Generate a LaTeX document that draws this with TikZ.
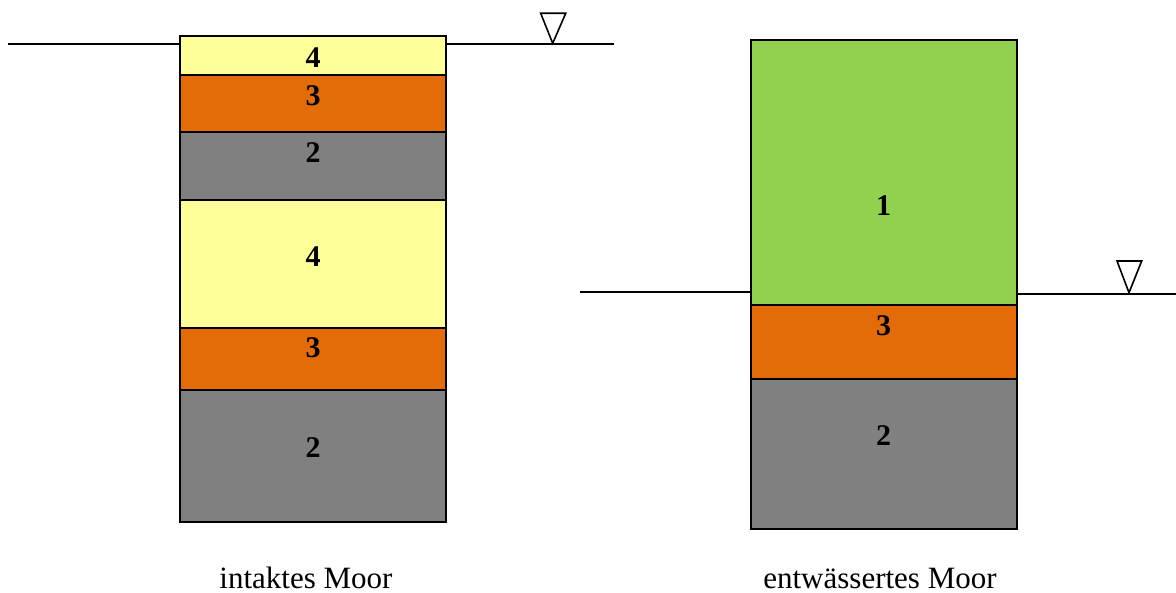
\documentclass[tikz,border=0pt]{standalone}
\usepackage{fontspec}
\setmainfont{Liberation Serif}
\definecolor{peatyellow}{HTML}{FFFF99}
\definecolor{peatorange}{HTML}{E36C09}
\definecolor{peatgray}{HTML}{808080}
\definecolor{peatgreen}{HTML}{92D050}
\tikzset{
  layer/.style={draw=black, line width=2pt, rectangle, inner sep=0pt, outer sep=0pt,
                minimum width=266pt},
  num/.style={font=\fontsize{30}{32}\selectfont\bfseries, inner sep=0pt},
  caption/.style={font=\fontsize{31}{34}\selectfont, anchor=base, inner sep=0pt},
  water/.style={line width=1.8pt},
  marker/.style={line width=1.6pt, line join=miter}
}
\begin{document}
\begin{tikzpicture}[x=1pt, y=-1pt]
\useasboundingbox (0,0) rectangle (1176,593);

% --- intact bog column ---
\node[layer, fill=peatyellow, minimum height=38.4pt] (a4t) at (313,55.5) {};
\node[layer, fill=peatorange, minimum height=57pt]   (a3t) at (313,103.2) {};
\node[layer, fill=peatgray,   minimum height=68.6pt] (a2t) at (313,166) {};
\node[layer, fill=peatyellow, minimum height=127.4pt](a4b) at (313,264) {};
\node[layer, fill=peatorange, minimum height=62.6pt] (a3b) at (313,359) {};
\node[layer, fill=peatgray,   minimum height=132pt]  (a2b) at (313,456.3) {};

\node[num] (n4t) at (313,57.5) {4};
\node[num] (n3t) at (313,95.5) {3};
\node[num] (n2t) at (313,152.5) {2};
\node[num] (n4b) at (313,257) {4};
\node[num] (n3b) at (313,348) {3};
\node[num] (n2b) at (313,448) {2};

% water table of the intact bog
\coordinate (wa1) at (8,44);
\coordinate (wa2) at (614,44);
\draw[water] (wa1) -- (wa1 -| a4t.west);
\draw[water] (wa2 -| a4t.east) -- (wa2);
\coordinate (ta) at (552.7,43.3);
\draw[marker] (ta) -- (540.7,13.3) -- (565.7,13.3) -- cycle;

\node[caption] (capa) at (306,588) {intaktes Moor};

% --- drained bog column ---
\node[layer, fill=peatgreen,  minimum height=265pt]  (b1) at (883.5,172.5) {};
\node[layer, fill=peatorange, minimum height=73.7pt] (b3) at (883.5,341.85) {};
\node[layer, fill=peatgray,   minimum height=150.6pt](b2) at (883.5,454) {};

\node[num] (m1) at (883.5,206) {1};
\node[num] (m3) at (883.5,325.5) {3};
\node[num] (m2) at (883.5,436) {2};

% lowered water table of the drained bog
\coordinate (wb1) at (580,291.7);
\coordinate (wb2) at (1176,293.7);
\draw[water] (wb1) -- (wb1 -| b1.west);
\draw[water] (wb2 -| b1.east) -- (wb2);
\coordinate (tb) at (1129,292.7);
\draw[marker] (tb) -- (1117,261) -- (1141.7,261) -- cycle;

\node[caption] (capb) at (880,588) {entwässertes Moor};
\end{tikzpicture}
\end{document}
